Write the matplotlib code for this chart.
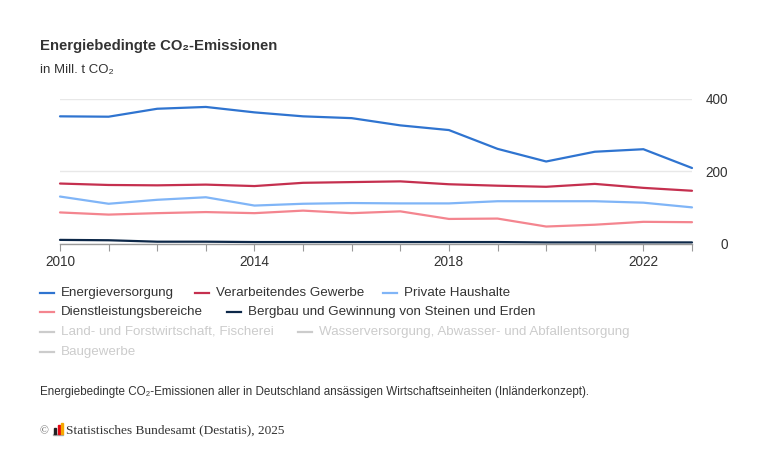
"""
Energiebedingte CO2-Emissionen nach Wirtschaftsbereichen, 2010-2023.
"""
import matplotlib
matplotlib.use('Agg')
import matplotlib.pyplot as plt
from matplotlib.lines import Line2D
from matplotlib.patches import Rectangle

plt.rcParams['font.family'] = ['Liberation Sans', 'DejaVu Sans']

# data (Mill. t CO2)
years = list(range(2010, 2024))
energie = [352, 351, 373, 378, 363, 352, 347, 327, 314, 262, 227, 254, 261, 209]
verarbeitend = [166, 162, 161, 163, 159, 168, 170, 172, 164, 160, 157, 165, 154, 146]
haushalte = [130, 110, 121, 128, 105, 110, 112, 111, 111, 117, 117, 117, 113, 100]
dienstleistung = [86, 80, 84, 87, 84, 91, 84, 89, 68, 69, 47, 52, 60, 59]
bergbau = [10, 9, 5, 5, 4, 4, 4, 4, 4, 4, 3, 3, 3, 3]

series = [
    ('Energieversorgung', energie, '#2f74d0'),
    ('Verarbeitendes Gewerbe', verarbeitend, '#c5304f'),
    ('Private Haushalte', haushalte, '#80b5f7'),
    ('Dienstleistungsbereiche', dienstleistung, '#f4858f'),
    ('Bergbau und Gewinnung von Steinen und Erden', bergbau, '#0d2849'),
]
hidden = ['Land- und Forstwirtschaft, Fischerei',
          'Wasserversorgung, Abwasser- und Abfallentsorgung',
          'Baugewerbe']

W, H = 768, 450
fig = plt.figure(figsize=(W / 100, H / 100), dpi=100)
ax = fig.add_axes([60 / W, 1 - 243.5 / H, 632 / W, 144.5 / H])

lines = {}
for name, vals, col in series:
    ln, = ax.plot(years, vals, color=col, lw=1.6, solid_capstyle='round',
                  solid_joinstyle='round', clip_on=False)
    lines[name] = ln

ax.set_xlim(2010, 2023)
ax.set_ylim(0, 400)
ax.set_yticks([0, 200, 400])
ax.yaxis.tick_right()
ax.tick_params(axis='y', length=0, pad=26, labelsize=9.8, labelcolor='#333333')
for lab in ax.get_yticklabels():
    lab.set_horizontalalignment('right')
ax.set_xticks(years)
ax.set_xticklabels([str(y) if y in (2010, 2014, 2018, 2022) else ''
                    for y in years])
ax.tick_params(axis='x', length=5, color='#999999', width=0.8, labelsize=9.8,
               labelcolor='#333333', pad=3)
ax.grid(axis='y', color='#e8e8e8', lw=1)
ax.set_axisbelow(True)
for s in ['top', 'left', 'right']:
    ax.spines[s].set_visible(False)
ax.spines['bottom'].set_color('#999999')
ax.spines['bottom'].set_linewidth(1)

# titles
fig.text(40 / W, 1 - 46 / H, 'Energiebedingte CO₂-Emissionen', fontsize=10.7,
         fontweight='bold', color='#333333', va='center')
fig.text(40 / W, 1 - 70 / H, 'in Mill. t CO₂', fontsize=9.5,
         color='#333333', va='center')

# legend, laid out like the original
legend_pos = [
    ('Energieversorgung', 40, 293),
    ('Verarbeitendes Gewerbe', 195, 293),
    ('Private Haushalte', 383, 293),
    ('Dienstleistungsbereiche', 40, 312),
    ('Bergbau und Gewinnung von Steinen und Erden', 227, 312),
    (hidden[0], 40, 332),
    (hidden[1], 298, 332),
    (hidden[2], 40, 352),
]
for name, x, y in legend_pos:
    if name in lines:
        col = lines[name].get_color()
        tcol = '#333333'
    else:
        col = '#cccccc'
        tcol = '#cccccc'
    fig.add_artist(Line2D([x / W, (x + 14) / W], [1 - y / H, 1 - y / H],
                          color=col, lw=1.6, transform=fig.transFigure))
    fig.text((x + 21) / W, 1 - y / H, name, fontsize=9.6, color=tcol,
             va='center')

fig.text(40 / W, 1 - 392 / H,
         'Energiebedingte CO₂-Emissionen aller in Deutschland ansässigen '
         'Wirtschaftseinheiten (Inländerkonzept).',
         fontsize=8.4, color='#333333', va='center')

# copyright line with small bar logo
fig.text(39 / W, 1 - 431 / H, '©', fontsize=8.5, color='#666666', va='center',
         family=['Liberation Serif', 'DejaVu Serif'])
fig.add_artist(Rectangle((53 / W, 1 - 435 / H), 10 / W, 1 / H,
                         color='#aaaaaa', transform=fig.transFigure))
for dx, h, c in [(0, 6, '#222222'), (3.5, 9, '#e30613'), (7, 11, '#f5a800')]:
    fig.add_artist(Rectangle(((54 + dx) / W, 1 - 434 / H), 2 / W, h / H,
                             color=c, transform=fig.transFigure))
fig.text(66 / W, 1 - 430 / H, 'Statistisches Bundesamt (Destatis), 2025',
         fontsize=9.6, color='#333333', va='center',
         family=['Liberation Serif', 'DejaVu Serif'])

fig.savefig('out.png', dpi=100, facecolor='white')
